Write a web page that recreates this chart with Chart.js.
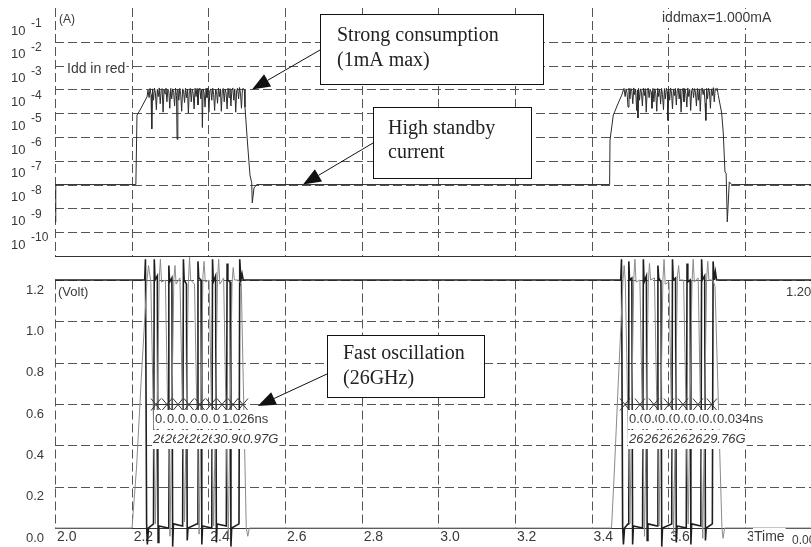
<!DOCTYPE html>
<html>
<head>
<meta charset="utf-8">
<script src="https://cdn.jsdelivr.net/npm/chart.js@4.4.0/dist/chart.umd.min.js"></script>
<style>
  html, body { margin: 0; padding: 0; background: #fff; }
  canvas { display: block; }
</style>
</head>
<body>
<canvas id="chart" width="811" height="547"></canvas>
<script>
// Axis ticks
const timeTicks = [2.0, 2.2, 2.4, 2.6, 2.8, 3.0, 3.2, 3.4, 3.6, 3.8];
const timeTickLabels = ['2.0', '2.2', '2.4', '2.6', '2.8', '3.0', '3.2', '3.4', '3.6', '3.8'];
const currentTicks = [1e-1, 1e-2, 1e-3, 1e-4, 1e-5, 1e-6, 1e-7, 1e-8, 1e-9, 1e-10];
const currentTickExp = ['-1', '-2', '-3', '-4', '-5', '-6', '-7', '-8', '-9', '-10'];
const voltTicks = [0, 0.2, 0.4, 0.6, 0.8, 1.0, 1.2];
const voltTickLabels = ['0.0', '0.2', '0.4', '0.6', '0.8', '1.0', '1.2'];

// Supply current Idd (A) vs time (ns)
const iddTime = [
  2.000, 2.002, 2.211, 2.2139, 2.2218, 2.2400,
  2.2426, 2.2455, 2.2480, 2.2505, 2.2525, 2.2545, 2.2570, 2.2595, 2.2620, 2.2645,
  2.2670, 2.2695, 2.2720, 2.2745, 2.2770, 2.2795, 2.2820, 2.2845, 2.2870, 2.2895,
  2.2920, 2.2945, 2.2970, 2.2995, 2.3020, 2.3045, 2.3070, 2.3095, 2.3120, 2.3145,
  2.3170, 2.3185, 2.3205, 2.3230, 2.3255, 2.3280, 2.3305, 2.3330, 2.3355, 2.3380,
  2.3405, 2.3430, 2.3455, 2.3480, 2.3505, 2.3530, 2.3555, 2.3580, 2.3605, 2.3630,
  2.3655, 2.3680, 2.3705, 2.3730, 2.3755, 2.3780, 2.3805, 2.3830, 2.3845, 2.3865,
  2.3890, 2.3915, 2.3940, 2.3965, 2.3990, 2.4015, 2.4040, 2.4065, 2.4090, 2.4115,
  2.4140, 2.4165, 2.4190, 2.4215, 2.4240, 2.4265, 2.4290, 2.4315, 2.4340, 2.4365,
  2.4390, 2.4415, 2.4440, 2.4465, 2.4490, 2.4515, 2.4540, 2.4565, 2.4590, 2.4615,
  2.4640, 2.4665, 2.4690, 2.4715, 2.4740, 2.4765, 2.4790, 2.4815, 2.4840, 2.4865,
  2.4890, 2.4915, 2.4940,
  2.4957, 2.5017, 2.5043, 2.5087, 2.5132, 2.5147, 2.5192, 2.5262,
  3.4470, 3.4480, 3.4566, 3.4697, 3.4785,
  3.4845, 3.4875, 3.4900, 3.4925, 3.4950, 3.4975, 3.5000, 3.5025, 3.5050, 3.5075,
  3.5100, 3.5125, 3.5150, 3.5175, 3.5200, 3.5210, 3.5225, 3.5250, 3.5275, 3.5300,
  3.5325, 3.5350, 3.5375, 3.5400, 3.5425, 3.5450, 3.5475, 3.5500, 3.5525, 3.5550,
  3.5575, 3.5600, 3.5625, 3.5650, 3.5675, 3.5700, 3.5725, 3.5750, 3.5775, 3.5800,
  3.5825, 3.5850, 3.5875, 3.5900, 3.5925, 3.5950, 3.5975, 3.5990, 3.6010, 3.6035,
  3.6060, 3.6085, 3.6110, 3.6135, 3.6160, 3.6185, 3.6210, 3.6235, 3.6260, 3.6285,
  3.6310, 3.6335, 3.6360, 3.6385, 3.6410, 3.6435, 3.6460, 3.6485, 3.6510, 3.6535,
  3.6560, 3.6585, 3.6610, 3.6635, 3.6660, 3.6685, 3.6710, 3.6735, 3.6760, 3.6785,
  3.6810, 3.6835, 3.6860, 3.6885, 3.6910, 3.6935, 3.6960, 3.6980, 3.7000, 3.7025,
  3.7050, 3.7075, 3.7100, 3.7125, 3.7150, 3.7175, 3.7200, 3.7225, 3.7250, 3.7275,
  3.7305, 3.7394, 3.7435, 3.7480, 3.7510, 3.7540, 3.7592, 3.7655, 3.9724
];
const iddAmp = [
  2.7e-10, 1.0e-8, 1.0e-8, 8.3e-6, 1.35e-5, 4.8e-5,
  9.3e-5, 4.5e-5, 1.10e-4, 6.0e-5, 2.2e-6, 1.05e-4, 3.5e-5, 1.12e-4, 7.0e-5, 1.4e-5,
  1.00e-4, 5.0e-5, 1.15e-4, 2.5e-5, 9.0e-5, 1.08e-4, 1.1e-5, 9.5e-5, 6.5e-5, 1.12e-4,
  3.0e-5, 1.02e-4, 8.0e-5, 1.6e-5, 1.10e-4, 4.0e-5, 1.05e-4, 7.5e-5, 2.0e-5, 1.13e-4,
  5.5e-5, 8.0e-7, 1.00e-4, 3.5e-5, 1.10e-4, 6.0e-5, 1.2e-5, 1.05e-4, 8.5e-5, 2.8e-5,
  1.12e-4, 4.5e-5, 1.00e-4, 1.0e-5, 9.0e-5, 1.10e-4, 3.0e-5, 1.04e-4, 6.5e-5, 1.5e-5,
  1.12e-4, 5.0e-5, 1.08e-4, 2.2e-5, 9.5e-5, 1.12e-4, 4.0e-5, 1.00e-4, 2.5e-6, 1.05e-4,
  7.0e-5, 1.8e-5, 1.10e-4, 4.5e-5, 1.15e-4, 1.1e-5, 9.0e-5, 1.05e-4, 3.5e-5, 1.12e-4,
  6.0e-5, 1.3e-5, 1.02e-4, 8.0e-5, 2.6e-5, 1.15e-4, 5.0e-5, 1.05e-4, 1.2e-5, 9.5e-5,
  1.10e-4, 3.0e-5, 1.04e-4, 7.0e-5, 1.5e-5, 1.12e-4, 4.5e-5, 1.08e-4, 2.0e-5, 1.00e-4,
  1.15e-4, 3.5e-5, 1.05e-4, 1.1e-5, 9.0e-5, 1.12e-4, 4.0e-5, 1.20e-4, 6.5e-5, 1.6e-5,
  1.05e-4, 1.10e-4, 9.5e-5,
  1.8e-5, 7.4e-7, 2.1e-7, 2.5e-8, 1.2e-8, 1.7e-9, 7.2e-9, 1.0e-8,
  1.0e-8, 7.4e-7, 8.3e-6, 2.7e-5, 5.7e-5,
  1.10e-4, 5.0e-5, 1.05e-4, 7.0e-5, 1.8e-5, 1.12e-4, 4.0e-5, 1.08e-4, 8.5e-5, 2.5e-5,
  1.15e-4, 6.0e-5, 1.00e-4, 1.3e-5, 9.5e-5, 6.3e-6, 1.10e-4, 3.5e-5, 1.05e-4, 7.5e-5,
  2.0e-5, 1.12e-4, 5.5e-5, 1.08e-4, 1.1e-5, 9.0e-5, 1.15e-4, 4.5e-5, 1.02e-4, 8.0e-5,
  1.6e-5, 1.10e-4, 3.0e-5, 1.06e-4, 6.5e-5, 1.2e-5, 1.12e-4, 5.0e-5, 1.04e-4, 2.4e-5,
  1.10e-4, 6.0e-5, 1.4e-5, 1.08e-4, 4.0e-5, 1.12e-4, 8.0e-5, 5.0e-6, 1.05e-4, 3.5e-5,
  1.15e-4, 7.0e-5, 1.5e-5, 1.02e-4, 5.5e-5, 1.10e-4, 2.2e-5, 9.5e-5, 1.12e-4, 4.0e-5,
  1.05e-4, 1.1e-5, 8.5e-5, 1.10e-4, 3.0e-5, 1.06e-4, 6.5e-5, 1.8e-5, 1.15e-4, 5.0e-5,
  1.00e-4, 1.3e-5, 9.0e-5, 1.12e-4, 4.5e-5, 1.08e-4, 7.5e-5, 2.0e-5, 1.10e-4, 3.5e-5,
  1.05e-4, 1.2e-5, 9.5e-5, 1.15e-4, 6.0e-5, 1.04e-4, 2.6e-5, 5.0e-6, 1.10e-4, 4.0e-5,
  1.12e-4, 8.0e-5, 1.6e-5, 1.05e-4, 5.5e-5, 1.18e-4, 3.0e-5, 1.08e-4, 9.0e-5, 1.12e-4,
  5.7e-5, 1.0e-5, 1.5e-6, 3.3e-8, 3.0e-8, 2.7e-10, 1.3e-8, 1.0e-8, 1.0e-8
];

// Oscillator node A (grey): idle at 0 V
const nodeATime = [
  2.000, 2.201, 2.213, 2.225, 2.240, 2.244, 2.250,
  2.262, 2.272, 2.275, 2.278, 2.288,
  2.300, 2.310, 2.313, 2.316, 2.326,
  2.338, 2.348, 2.351, 2.354, 2.364,
  2.376, 2.386, 2.389, 2.392, 2.402,
  2.414, 2.424, 2.427, 2.430, 2.440,
  2.452, 2.462, 2.465, 2.468, 2.478,
  2.486, 2.499, 2.503, 2.507,
  3.452, 3.460, 3.470, 3.482, 3.485, 3.488,
  3.500, 3.510, 3.513, 3.516, 3.526,
  3.538, 3.548, 3.551, 3.554, 3.564,
  3.576, 3.586, 3.589, 3.592, 3.602,
  3.614, 3.624, 3.627, 3.630, 3.640,
  3.652, 3.662, 3.665, 3.668, 3.678,
  3.690, 3.700, 3.703, 3.706, 3.716,
  3.722, 3.740, 3.743, 3.747, 3.9724
];
const nodeAVolt = [
  0.00, 0.00, 0.30, 0.72, 1.20, 1.27, 1.19,
  0.02, 1.21, 1.30, 1.19, 1.20,
  -0.04, 1.20, 1.27, 1.18, 1.21,
  0.03, 1.19, 1.31, 1.20, 1.18,
  -0.03, 1.22, 1.29, 1.19, 1.20,
  0.01, 1.20, 1.30, 1.18, 1.21,
  -0.05, 1.19, 1.26, 1.20, 1.20,
  1.18, 0.00, -0.04, 0.00,
  0.00, 0.30, 0.72, 1.20, 1.27, 1.19,
  0.02, 1.21, 1.30, 1.19, 1.20,
  -0.04, 1.19, 1.28, 1.20, 1.21,
  0.01, 1.20, 1.30, 1.18, 1.19,
  -0.03, 1.22, 1.27, 1.20, 1.20,
  0.02, 1.19, 1.30, 1.19, 1.21,
  -0.05, 1.20, 1.29, 1.20, 1.20,
  1.17, 0.00, -0.05, 0.00, 0.00
];

// Oscillator node B (dark): idle at 1.2 V
const nodeBTime = [
  2.000, 2.234, 2.236, 2.239, 2.241, 2.244,
  2.257, 2.259, 2.261, 2.267, 2.269, 2.271,
  2.295, 2.297, 2.299, 2.305, 2.307, 2.309,
  2.333, 2.335, 2.337, 2.343, 2.345, 2.347,
  2.371, 2.373, 2.375, 2.381, 2.383, 2.385,
  2.409, 2.411, 2.413, 2.419, 2.421, 2.423,
  2.447, 2.449, 2.451, 2.457, 2.459, 2.461,
  2.480, 2.482, 2.485, 2.488, 2.491,
  3.476, 3.478, 3.481, 3.483, 3.486,
  3.495, 3.497, 3.499, 3.505, 3.507, 3.509,
  3.533, 3.535, 3.537, 3.543, 3.545, 3.547,
  3.571, 3.573, 3.575, 3.581, 3.583, 3.585,
  3.609, 3.611, 3.613, 3.619, 3.621, 3.623,
  3.647, 3.649, 3.651, 3.657, 3.659, 3.661,
  3.685, 3.687, 3.689, 3.695, 3.697, 3.699,
  3.715, 3.717, 3.720, 3.723, 3.726, 3.9724
];
const nodeBVolt = [
  1.20, 1.20, 1.30, 0.02, -0.08, 0.00,
  0.02, 1.30, 1.20, 1.22, -0.07, 0.01,
  0.00, 1.27, 1.19, 1.21, -0.09, 0.02,
  0.01, 1.30, 1.20, 1.18, -0.06, 0.00,
  0.02, 1.29, 1.21, 1.20, -0.08, 0.01,
  0.00, 1.30, 1.19, 1.22, -0.07, 0.02,
  0.01, 1.28, 1.20, 1.19, -0.09, 0.00,
  0.02, 1.30, 1.20, 1.23, 1.20,
  1.20, 1.30, 0.01, -0.08, 0.00,
  0.02, 1.29, 1.20, 1.21, -0.08, 0.01,
  0.00, 1.30, 1.19, 1.22, -0.06, 0.02,
  0.01, 1.27, 1.21, 1.19, -0.09, 0.00,
  0.02, 1.30, 1.20, 1.21, -0.07, 0.01,
  0.00, 1.28, 1.19, 1.20, -0.08, 0.02,
  0.01, 1.30, 1.20, 1.22, -0.06, 0.00,
  0.02, 1.29, 1.20, 1.24, 1.20, 1.20
];

// Period measurement at 0.6 V
const markLevel = 0.6;
const markTime1 = [2.2635, 2.2922, 2.3209, 2.3496, 2.3783, 2.4070, 2.4357, 2.4644, 2.4904];
const markTime2 = [3.4870, 3.5261, 3.5626, 3.6017, 3.6383, 3.6774, 3.7139];
const periodTime1 = [2.2609, 2.2922, 2.3209, 2.3522, 2.3809, 2.4122, 2.4357];
const periodText1 = ['0.031ns', '0.029ns', '0.031ns', '0.030ns', '0.031ns', '0.024ns', '1.026ns'];
const freqTime1 = [2.2557, 2.2870, 2.3183, 2.3496, 2.3809, 2.4122, 2.4904];
const freqText1 = ['26.1G', '26.7G', '26.3G', '26.6G', '26.2G', '30.9G', '0.97G'];
const periodTime2 = [3.4974, 3.5365, 3.5730, 3.6122, 3.6513, 3.6878, 3.7270];
const periodText2 = ['0.038ns', '0.037ns', '0.039ns', '0.038ns', '0.037ns', '0.038ns', '0.034ns'];
const freqTime2 = [3.4974, 3.5365, 3.5756, 3.6122, 3.6513, 3.6904];
const freqText2 = ['26.3G', '26.8G', '26.1G', '26.5G', '26.6G', '29.76G'];

// Panel limits
const panelCurrentBottom = 1e-11;
const panelVoltTop = 1.2;

const SANS = '"Liberation Sans", Arial, sans-serif';
const SERIF = '"Liberation Serif", "Times New Roman", serif';
const GRID = '#555';
const TEXT = '#3a3a3a';

function toPoints(xs, ys) {
  return xs.map(function (x, i) { return { x: x, y: ys[i] }; });
}

function crisp(v) { return Math.round(v) + 0.5; }

function textBox(ctx, str, x, y, font, align) {
  ctx.font = font;
  ctx.textAlign = align || 'left';
  ctx.textBaseline = 'middle';
  const w = ctx.measureText(str).width;
  const left = (align === 'right') ? x - w : x;
  ctx.fillStyle = '#fff';
  ctx.fillRect(left - 1, y - 9, w + 2, 19);
  ctx.fillStyle = TEXT;
  ctx.fillText(str, x, y);
}

function arrow(ctx, x1, y1, x2, y2) {
  const a = Math.atan2(y2 - y1, x2 - x1);
  const len = 18, half = 7;
  const bx = x2 - len * Math.cos(a), by = y2 - len * Math.sin(a);
  ctx.strokeStyle = '#111';
  ctx.lineWidth = 1;
  ctx.beginPath(); ctx.moveTo(x1, y1); ctx.lineTo(bx, by); ctx.stroke();
  ctx.fillStyle = '#111';
  ctx.beginPath();
  ctx.moveTo(x2, y2);
  ctx.lineTo(bx + half * Math.sin(a), by - half * Math.cos(a));
  ctx.lineTo(bx - half * Math.sin(a), by + half * Math.cos(a));
  ctx.closePath(); ctx.fill();
}

function callout(ctx, box, lines, from, tip) {
  ctx.fillStyle = '#fff';
  ctx.fillRect(box[0], box[1], box[2] - box[0], box[3] - box[1]);
  ctx.strokeStyle = '#111'; ctx.lineWidth = 1;
  ctx.strokeRect(box[0] + 0.5, box[1] + 0.5, box[2] - box[0], box[3] - box[1]);
  ctx.font = '20px ' + SERIF;
  ctx.fillStyle = '#222';
  ctx.textAlign = 'left'; ctx.textBaseline = 'middle';
  lines.forEach(function (l) { ctx.fillText(l[0], l[1], l[2]); });
  arrow(ctx, from[0], from[1], tip[0], tip[1]);
}

const scopePlugin = {
  id: 'scope',
  beforeDatasetsDraw(chart) {
    const ctx = chart.ctx, area = chart.chartArea;
    const x = chart.scales.x, yi = chart.scales.yI, yv = chart.scales.yV;
    const iTop = area.top, iBot = crisp(yi.getPixelForValue(panelCurrentBottom));
    const vTop = crisp(yv.getPixelForValue(panelVoltTop)), vBot = crisp(yv.getPixelForValue(0));
    ctx.save();
    ctx.strokeStyle = GRID; ctx.lineWidth = 1; ctx.setLineDash([9, 4]);
    timeTicks.forEach(function (t) {
      const px = crisp(x.getPixelForValue(t));
      ctx.beginPath(); ctx.moveTo(px, iTop); ctx.lineTo(px, iBot); ctx.stroke();
      ctx.beginPath(); ctx.moveTo(px, vTop); ctx.lineTo(px, vBot); ctx.stroke();
    });
    currentTicks.slice(1).forEach(function (v) {
      const py = crisp(yi.getPixelForValue(v));
      ctx.beginPath(); ctx.moveTo(area.left, py); ctx.lineTo(area.right, py); ctx.stroke();
    });
    voltTicks.slice(1).forEach(function (v) {
      const py = crisp(yv.getPixelForValue(v));
      ctx.beginPath(); ctx.moveTo(area.left, py); ctx.lineTo(area.right, py); ctx.stroke();
    });
    ctx.setLineDash([]);
    ctx.strokeStyle = '#333';
    [iBot, vBot].forEach(function (py) {
      ctx.beginPath(); ctx.moveTo(area.left, py); ctx.lineTo(area.right, py); ctx.stroke();
    });

    // tick labels
    ctx.fillStyle = TEXT; ctx.textBaseline = 'middle';
    currentTicks.forEach(function (v, i) {
      const py = yi.getPixelForValue(v);
      ctx.textAlign = 'left';
      ctx.font = '13px ' + SANS;
      ctx.fillText('10', 11, py + 13);
      ctx.font = '12px ' + SANS;
      ctx.fillText(currentTickExp[i], 31, py + 6);
    });
    ctx.font = '13px ' + SANS;
    ctx.textAlign = 'right';
    voltTicks.forEach(function (v, i) {
      ctx.fillText(voltTickLabels[i], 44, yv.getPixelForValue(v) + 10);
    });
    ctx.font = '14px ' + SANS;
    ctx.textAlign = 'left';
    timeTicks.forEach(function (t, i) {
      ctx.fillText(timeTickLabels[i], x.getPixelForValue(t) + 2, vBot + 9);
    });
    ctx.restore();
  },
  afterDatasetsDraw(chart) {
    const ctx = chart.ctx, area = chart.chartArea;
    const x = chart.scales.x, yi = chart.scales.yI, yv = chart.scales.yV;
    const X = function (t) { return x.getPixelForValue(t); };
    ctx.save();

    // period markers on the 0.6 V level
    const my = crisp(yv.getPixelForValue(markLevel));
    [markTime1, markTime2].forEach(function (marks) {
      ctx.strokeStyle = '#333'; ctx.lineWidth = 1;
      ctx.beginPath(); ctx.moveTo(X(marks[0]), my); ctx.lineTo(X(marks[marks.length - 1]), my); ctx.stroke();
      marks.forEach(function (t) {
        const px = X(t);
        ctx.beginPath();
        ctx.moveTo(px - 5, my - 6); ctx.lineTo(px + 5, my + 6);
        ctx.moveTo(px - 5, my + 6); ctx.lineTo(px + 5, my - 6);
        ctx.stroke();
      });
    });
    const rowTop = yv.getPixelForValue(markLevel) + 15;
    const rowBot = rowTop + 20;
    [[periodTime1, periodText1, freqTime1, freqText1], [periodTime2, periodText2, freqTime2, freqText2]].forEach(function (m) {
      m[0].forEach(function (t, i) { textBox(ctx, m[1][i], X(t), rowTop, '13px ' + SANS); });
      m[2].forEach(function (t, i) { textBox(ctx, m[3][i], X(t), rowBot, 'italic 13px ' + SANS); });
    });

    // axis captions
    textBox(ctx, '(A)', area.left + 4, 20, '12px ' + SANS);
    textBox(ctx, 'Idd in red', area.left + 12, 69, '14px ' + SANS);
    textBox(ctx, 'iddmax=1.000mA', 662, 18, '14px ' + SANS);
    textBox(ctx, '(Volt)', area.left + 3, yv.getPixelForValue(1.2) + 12, '13px ' + SANS);
    textBox(ctx, '1.20', 786, yv.getPixelForValue(1.2) + 12, '13px ' + SANS);
    textBox(ctx, 'Time', 754, yv.getPixelForValue(0) + 9, '14px ' + SANS);
    ctx.font = '12px ' + SANS; ctx.fillStyle = TEXT; ctx.textAlign = 'left';
    ctx.fillText('0.00', 792, yv.getPixelForValue(0) + 13);

    // callouts
    callout(ctx, [320, 14, 543, 84],
      [['Strong consumption', 337, 36], ['(1mA max)', 337, 61]],
      [320, 50], [X(2.514), yi.getPixelForValue(1e-4)]);
    callout(ctx, [373, 107, 531, 178],
      [['High standby', 388, 129], ['current', 388, 153]],
      [373, 143], [X(2.647), yi.getPixelForValue(1e-8)]);
    callout(ctx, [327, 335, 484, 397],
      [['Fast oscillation', 343, 354], ['(26GHz)', 343, 379]],
      [327, 374], [X(2.529), yv.getPixelForValue(0.59)]);
    ctx.restore();
  }
};

const chart = new Chart(document.getElementById('chart').getContext('2d'), {
  type: 'line',
  data: {
    datasets: [
      {
        label: 'Idd',
        data: toPoints(iddTime, iddAmp),
        yAxisID: 'yI',
        borderColor: '#2b2b2b',
        borderWidth: 1,
        pointRadius: 0,
        clip: false
      },
      {
        label: 'Node A',
        data: toPoints(nodeATime, nodeAVolt),
        yAxisID: 'yV',
        borderColor: '#8a8a8a',
        borderWidth: 1,
        pointRadius: 0,
        clip: false
      },
      {
        label: 'Node B',
        data: toPoints(nodeBTime, nodeBVolt),
        yAxisID: 'yV',
        borderColor: '#1e1e1e',
        borderWidth: 1.6,
        pointRadius: 0,
        clip: false
      }
    ]
  },
  options: {
    responsive: false,
    animation: false,
    devicePixelRatio: 1,
    parsing: false,
    layout: { padding: { left: 55, top: 8, right: 0, bottom: 19 } },
    plugins: { legend: { display: false }, tooltip: { enabled: false } },
    elements: { line: { tension: 0 } },
    scales: {
      x: { type: 'linear', min: 2.0, max: 3.9724, display: false },
      // log decades: 1e-11 sits at the panel split, upper part only holds data
      yI: { type: 'logarithmic', min: 3.7e-23, max: 0.263, display: false },
      yV: { type: 'linear', min: 0, max: 2.516, display: false }
    }
  },
  plugins: [scopePlugin]
});
</script>
</body>
</html>
